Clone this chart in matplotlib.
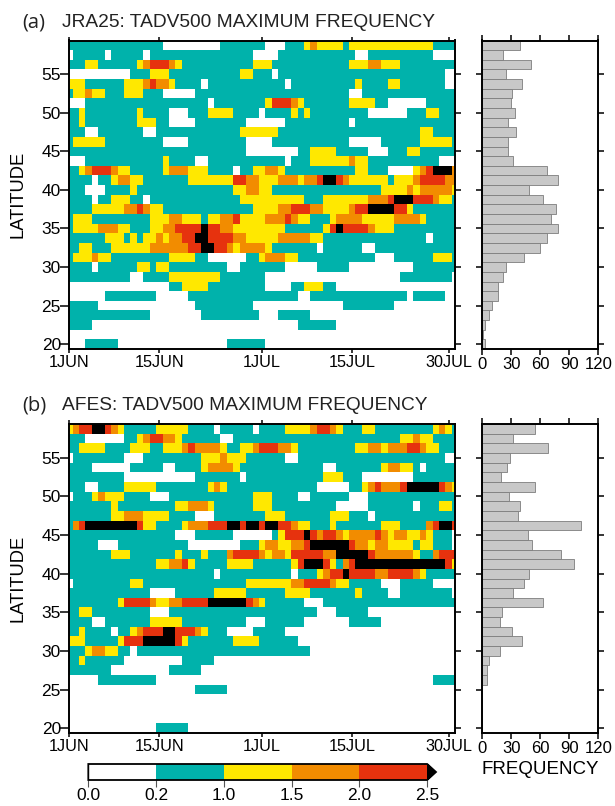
import numpy as np
import matplotlib
matplotlib.use('Agg')
import matplotlib.pyplot as plt
from matplotlib.colors import ListedColormap, BoundaryNorm
from matplotlib.cm import ScalarMappable

plt.rcParams['font.family'] = ['Liberation Sans', 'DejaVu Sans']

# class of each cell, top row first: 0 white, 1 teal, 2 yellow, 3 orange, 4 red, 5 black
rows_a = [
    "1111111111 1111100000 0000111111 1000111232 2221222222 2222222111 1",
    "0111110111 1101111111 1111111110 0001111111 1111100111 1111111000 0",
    "1112211111 1234443211 1111111112 2211111111 1111222332 2211111111 1",
    "0000000000 1112221111 1111111221 1101111111 1111111111 1111111110 0",
    "2221111112 2234332111 1011111111 1111011111 1111121111 2211111110 0",
    "1223221112 2211100000 1111111111 1111111111 1111001111 1111111111 1",
    "0001111111 1111111111 1101111111 1244432111 1111222211 0000001111 1",
    "1121111111 1211110001 1122221111 0111121211 1111111000 0001112211 1",
    "1121111111 1222110000 1111111100 0000111111 1111011111 1111111111 1",
    "1110011111 1100111111 1111111222 2221111111 1111111111 1111122111 1",
    "1222221111 1111100001 1111111100 0011111111 1111000001 1111122222 1",
    "1111111111 1111111111 1111111100 0000001122 2211111000 1112211111 1",
    "0001111111 1111121111 0011111111 1111011122 2222322111 1111111100 0",
    "1123444322 1111123332 2211110112 2332111111 1111122111 0000234555 3",
    "1111011233 2211111112 2222224433 2223332334 5543222222 1222344443 3",
    "1110001111 2111111111 1111112233 2211111111 1111111112 2223233333 2",
    "1111011222 1101111111 1111111222 2222222111 2222222333 4555444322 1",
    "1111222223 3432211111 1111111112 2223344433 2222344555 5442111111 1",
    "1222111111 1112223322 2122334222 2333432211 1233332222 2333321111 1",
    "1222233322 1112233444 4544332222 2222111111 2454444322 2111111111 1",
    "1111112221 2122323344 5544443322 2223333322 1111111111 1111110111 1",
    "1122111222 2223333334 4554432333 3211111110 1111110011 1111111111 1",
    "1222322111 1111112222 1100000011 2333221111 1111111100 0111111222 1",
    "1111011111 1221221111 1111100111 1111000001 1111000000 0000111111 1",
    "1111111111 0011112222 2222111111 1000000000 0000000000 0011111111 0",
    "0000000000 0000001122 2211111111 1000011222 1100000000 0000000000 0",
    "0000001111 1111000001 1111111111 1111110011 1111111111 1110111110 0",
    "1111100000 0000000000 1111111110 0000000000 0001111111 1000000000 0",
    "1111111111 1110000000 0111111111 0001111100 0000000000 0000000000 0",
    "1111000000 0000000000 0000000000 0000001111 1100000000 0000000000 0",
    "0000000000 0000000000 0000000000 0000000000 0000000000 0000000000 0",
    "0001111100 0000000000 0000011111 1000000000 0000000000 0000000000 0",
]
rows_b = [
    "2344554321 1111222221 1110111110 1111222234 4321112211 1111111232 1",
    "1110000001 1234433211 1111001111 1111111111 1111111111 1122322111 1",
    "1122221111 2221122234 3333211223 4443321111 1111122332 3334432211 1",
    "0111111110 0011111111 1222322211 1111001111 1111111111 1111111110 0",
    "1111000000 1111100111 1233332111 1111111111 0011111112 3322101111 1",
    "1111111110 0000000000 1111111011 1111111111 2221110000 0000111111 1",
    "1110011112 2222111111 1123211111 1111111110 0000112343 3345555543 2",
    "0111232221 1110001111 1111111112 2211110011 1111000111 1111111111 1",
    "1111111211 1111111223 3321111112 2211111111 1100000111 1111011122 1",
    "1111111223 3322221111 0001111111 1222111111 1222111011 1111111111 1",
    "1345555555 5422111123 3344455455 4554432211 1211111112 2211113455 4",
    "1111111111 1111111000 1111110000 0012444543 4432333343 2332232111 0",
    "1111100011 1111111110 0000000111 2332233455 5555433233 2222122111 0",
    "1111111222 1111111211 1211134444 3233244444 3355555433 3333211344 4",
    "1111111111 1111223342 1111122221 1111124555 4213455555 5555555554 2",
    "1111111111 1111111111 1110111111 1111101112 3445444433 4444321111 1",
    "0111111111 2211111111 1111111122 2222233444 4322111110 0011111000 0",
    "1111111111 1110000111 1112222211 1111222211 1111121111 0011111111 0",
    "1111111124 4443223344 4455555543 2111111000 1111111111 1111111111 1",
    "1122111111 1110001111 1111111111 1111111110 0011111000 0000000000 0",
    "1111001111 1112222211 1111111100 0111111000 0000111110 0000000000 0",
    "1121111011 2344455444 3211100001 1111000000 0000000000 0000000000 0",
    "2221111124 4455555421 1111112222 1111110000 0000000000 0000000000 0",
    "1112332211 0111111111 1111111111 1111111100 0000000000 0000000000 0",
    "1121111110 0000000011 1110000000 0000000000 0000000000 0000000000 0",
    "1111111000 0000001111 1000000000 0000000000 0000000000 0000000000 0",
    "0000011111 1111000000 0000000000 0000000000 0000000000 0000000111 1",
    "0000000000 0000000000 1111100000 0000000000 0000000000 0000000000 0",
    "0000000000 0000000000 0000000000 0000000000 0000000000 0000000000 0",
    "0000000000 0000000000 0000000000 0000000000 0000000000 0000000000 0",
    "0000000000 0000000000 0000000000 0000000000 0000000000 0000000000 0",
    "0000000000 0000111110 0000000000 0000000000 0000000000 0000000000 0",
]

# histogram counts, top row first
freq_a = [39, 21, 50, 25, 41, 31, 30, 34, 27, 35, 27, 27, 32, 67, 78, 48,
          63, 76, 71, 78, 67, 60, 43, 24, 21, 16, 16, 10, 7, 3, 1, 3]
freq_b = [55, 32, 68, 29, 26, 19, 55, 28, 39, 37, 102, 47, 51, 81, 95, 48,
          43, 32, 63, 20, 18, 31, 41, 18, 7, 5, 5, 0, 0, 0, 0, 0]

colores = ['white', '#00b2ab', '#ffe800', '#f28c00', '#e6320e']
niveles = [0.0, 0.2, 1.0, 1.5, 2.0, 2.5]
etiq_niveles = ['0.0', '0.2', '1.0', '1.5', '2.0', '2.5']
dias = [0, 14, 30, 44, 59]
etiq_dias = ['1JUN', '15JUN', '1JUL', '15JUL', '30JUL']
lats = [20, 25, 30, 35, 40, 45, 50, 55]
frec_ticks = [0, 30, 60, 90, 120]

W, H = 615, 806
fig = plt.figure(figsize=(W / 100, H / 100), dpi=100)


def caja(x0, y0, x1, y1):
    # pixels (origin top left) to figure fraction
    return [x0 / W, 1 - y1 / H, (x1 - x0) / W, (y1 - y0) / H]


cmap = ListedColormap(['white', '#00b2ab', '#ffe800', '#f28c00', '#e6320e', 'black'])
norma = BoundaryNorm([-0.5, 0.5, 1.5, 2.5, 3.5, 4.5, 5.5], cmap.N)
lat_bordes = 19.375 + 1.25 * np.arange(33)
dia_bordes = np.arange(62) - 0.5


def panel(filas, frec, y0, y1, letra, titulo):
    ax = fig.add_axes(caja(69.3, y0, 455, y1))
    datos = np.array([[int(c) for c in f.replace(' ', '')] for f in filas])[::-1]
    ax.pcolormesh(dia_bordes, lat_bordes, datos, cmap=cmap, norm=norma, antialiased=False)
    ax.set_xlim(0, 60)
    ax.set_ylim(19.375, 59.375)
    ax.set_xticks(dias)
    ax.set_xticklabels(etiq_dias)
    ax.set_yticks(lats)
    ax.tick_params(axis='both', direction='out', length=3, width=1.1, top=True, right=True)
    ax.tick_params(axis='y', labelsize=12.5, pad=3)
    ax.tick_params(axis='x', labelsize=11.7, pad=1.5)
    for t in ax.yaxis.get_major_ticks():
        t.tick1line.set_markersize(6.5)
        t.tick2line.set_markersize(4.5)
    ax.set_ylabel('LATITUDE', fontsize=13.2)
    ax.yaxis.set_label_coords(-0.112, 0.5)
    for s in ax.spines.values():
        s.set_linewidth(1.4)
    fig.text(22 / W, 1 - (y0 - 18) / H, letra, fontsize=14.5, va='center', family='Open Sans',
             color='#222222')
    fig.text(62 / W, 1 - (y0 - 18) / H, titulo, fontsize=13.8, va='center', color='#222222')

    ax2 = fig.add_axes(caja(482.3, y0, 598.3, y1))
    centros = (lat_bordes[:-1] + lat_bordes[1:]) / 2
    ax2.barh(centros, np.array(frec)[::-1], height=1.25, color='#c8c8c8',
             edgecolor='#7d7d7d', linewidth=0.6)
    ax2.set_xlim(0, 120)
    ax2.set_ylim(19.375, 59.375)
    ax2.set_xticks(frec_ticks)
    ax2.set_yticks(lats)
    ax2.set_yticklabels([])
    ax2.tick_params(axis='both', direction='out', length=4, width=1.1, top=True, right=True,
                    labelsize=12, pad=1.5)
    for s in ax2.spines.values():
        s.set_linewidth(1.4)


panel(rows_a, freq_a, 40.5, 349, '(a)', 'JRA25: TADV500 MAXIMUM FREQUENCY')
panel(rows_b, freq_b, 424, 733, '(b)', 'AFES: TADV500 MAXIMUM FREQUENCY')

fig.text(540 / W, 1 - 770 / H, 'FREQUENCY', fontsize=13.5, ha='center', va='center')

# barra de colores
cax = fig.add_axes(caja(88.3, 764, 436, 780))
cmap_barra = ListedColormap(colores)
cmap_barra.set_over('black')
norma_barra = BoundaryNorm(niveles, cmap_barra.N)
cb = fig.colorbar(ScalarMappable(norm=norma_barra, cmap=cmap_barra), cax=cax,
                  orientation='horizontal', spacing='uniform', extend='max',
                  extendfrac=0.026, ticks=niveles)
cb.ax.set_xticklabels(etiq_niveles)
cb.ax.tick_params(direction='out', length=5, width=0.8, labelsize=12.5, pad=1, color='#555555')
cb.outline.set_linewidth(1.3)

plt.savefig('out.png', dpi=100)
